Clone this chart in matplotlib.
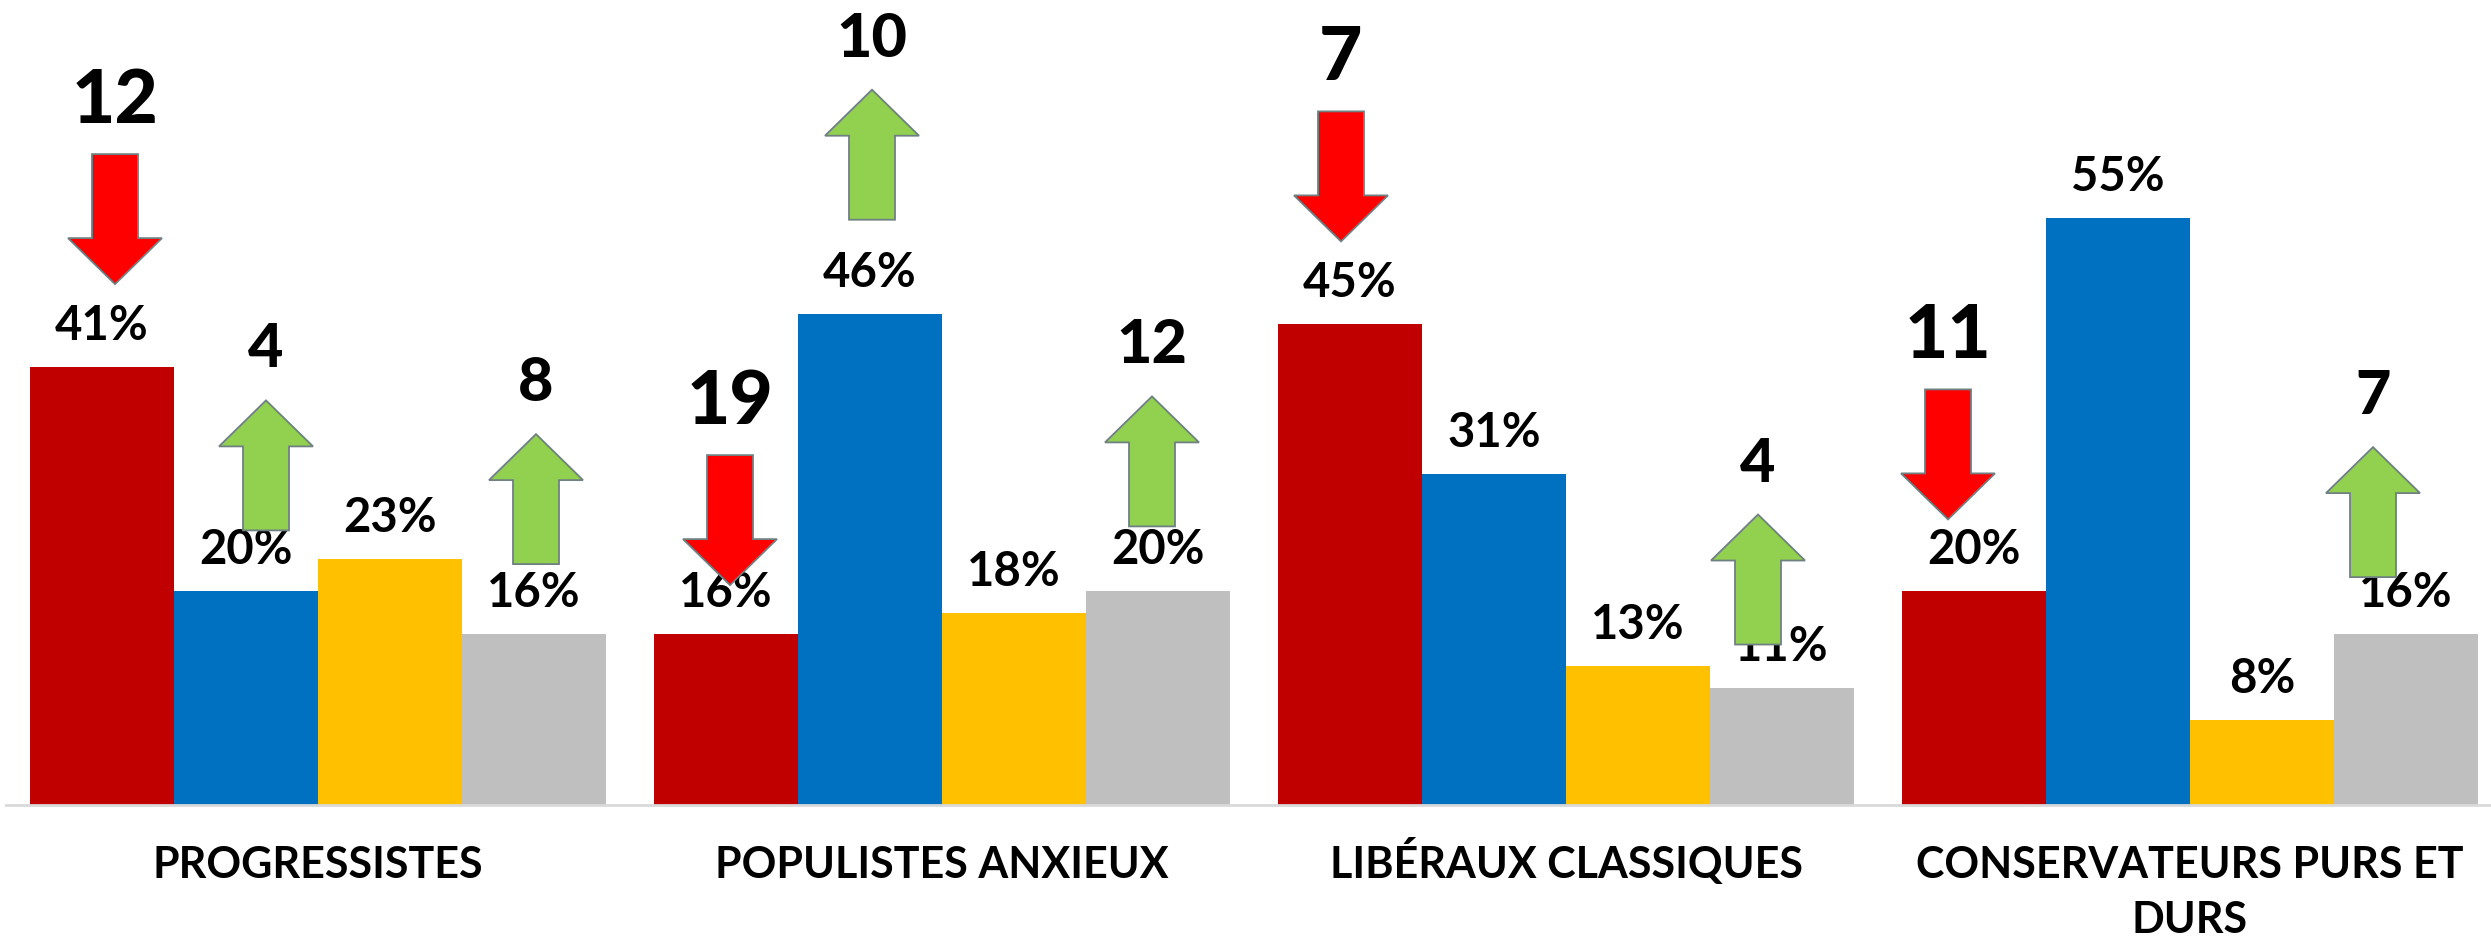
import matplotlib
matplotlib.use('Agg')
import matplotlib.pyplot as plt
import matplotlib.transforms as mtransforms
from matplotlib.patches import Polygon

plt.rcParams['font.family'] = ['Lato', 'DejaVu Sans']

groups = ['PROGRESSISTES', 'POPULISTES ANXIEUX', 'LIBÉRAUX CLASSIQUES',
          'CONSERVATEURS PURS ET\nDURS']

red_vals = [41, 16, 45, 20]
blue_vals = [20, 46, 31, 55]
yellow_vals = [23, 18, 13, 8]
grey_vals = [16, 20, 11, 16]

# change in points shown with an arrow (None = nothing shown)
red_change = [-12, -19, -7, -11]
blue_change = [4, 10, None, None]
yellow_change = [None, None, None, None]
grey_change = [8, 12, 4, 7]

# arrow placement, in pixels: gap above bar top, shift from bar centre
red_gap = [83, 49, 83, 72]
red_dx = [13, 4, -9, -26]
blue_gap = [61, 94, None, None]
blue_dx = [20, 2, None, None]
grey_gap = [70, 65, 43, 57]
grey_dx = [2, -6, -24, -33]

series = [
    (red_vals, red_change, red_gap, red_dx, '#C00000'),
    (blue_vals, blue_change, blue_gap, blue_dx, '#0070C0'),
    (yellow_vals, yellow_change, [None] * 4, [None] * 4, '#FFC000'),
    (grey_vals, grey_change, grey_gap, grey_dx, '#BFBFBF'),
]

PT = 0.72  # points per pixel at dpi 100
W, H = 2491, 939
fig = plt.figure(figsize=(W / 100, H / 100), dpi=100)
ax = fig.add_axes([6 / W, 134 / H, (W - 6) / W, 805 / H])

bw = 144 / 624
arrow_len, head_len, head_hw, shaft_hw = 130, 46, 47, 23

down_arrow = [(0, 0), (head_hw, head_len), (shaft_hw, head_len), (shaft_hw, arrow_len),
              (-shaft_hw, arrow_len), (-shaft_hw, head_len), (-head_hw, head_len)]
up_arrow = [(-shaft_hw, 0), (shaft_hw, 0), (shaft_hw, arrow_len - head_len),
            (head_hw, arrow_len - head_len), (0, arrow_len),
            (-head_hw, arrow_len - head_len), (-shaft_hw, arrow_len - head_len)]

for j, (vals, changes, gaps, dxs, color) in enumerate(series):
    xs = [i + (j - 1.5) * bw for i in range(len(vals))]
    ax.bar(xs, vals, width=bw, color=color, zorder=2)
    for x, v, c, gap, dx in zip(xs, vals, changes, gaps, dxs):
        ax.annotate(f'{v}%', xy=(x, v), xytext=(0, 27 * PT), textcoords='offset points',
                    ha='center', va='baseline', fontsize=34, fontweight='bold',
                    color='black', zorder=3)
        if c is None:
            continue
        if c < 0:
            verts, fc, txt_gap = down_arrow, '#FF0000', 31
            fs = 54
        else:
            verts, fc, txt_gap = up_arrow, '#92D050', 33
            fs = 44
        trans = (mtransforms.Affine2D().translate(dx, gap)
                 + mtransforms.ScaledTranslation(x, v, ax.transData))
        arrow = Polygon(verts, closed=True, facecolor=fc, edgecolor='#6F8082',
                        linewidth=1.3, transform=trans, zorder=4, clip_on=False)
        ax.add_patch(arrow)
        ax.annotate(str(abs(c)), xy=(x, v),
                    xytext=(dx * PT, (gap + arrow_len + txt_gap) * PT),
                    textcoords='offset points', ha='center', va='baseline',
                    fontsize=fs, fontweight='black', color='black', zorder=5)

# category labels under the axis
for i, name in enumerate(groups):
    for k, line in enumerate(name.split('\n')):
        ax.annotate(line, xy=(i, 0), xytext=(0, -(73 + 55 * k) * PT),
                    textcoords='offset points', ha='center', va='baseline',
                    fontsize=31, fontweight='bold', color='black',
                    annotation_clip=False)

ax.set_xlim(-0.5, (W - 318) / 624)
ax.set_ylim(0, 805 / 10.68)
ax.set_xticks([])
ax.set_yticks([])
for s in ['left', 'right', 'top']:
    ax.spines[s].set_visible(False)
ax.spines['bottom'].set_color('#D9D9D9')
ax.spines['bottom'].set_linewidth(2)

fig.savefig('out.png', dpi=100)
